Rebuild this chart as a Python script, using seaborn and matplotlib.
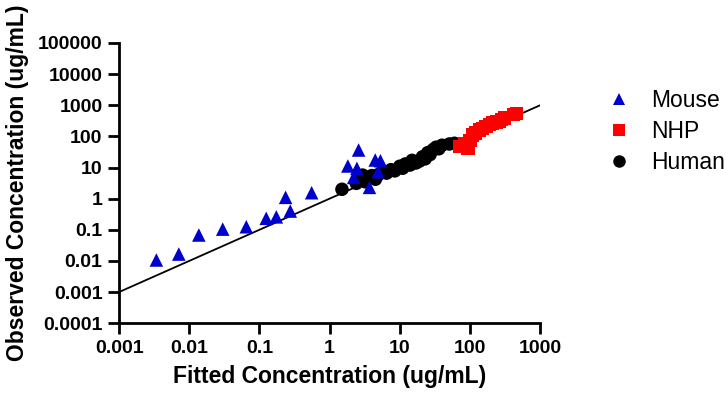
import matplotlib
matplotlib.use("Agg")
import matplotlib.pyplot as plt
import seaborn as sns
import pandas as pd
import numpy as np

#%% data

mouse_fitted = [0.0034, 0.0071, 0.0137, 0.030, 0.065, 0.125, 0.174, 0.275, 0.236, 0.555,
                2.59, 1.82, 2.45, 2.2, 3.7, 4.47, 5.3, 4.9]
mouse_observed = [0.0107, 0.0166, 0.068, 0.105, 0.125, 0.233, 0.26, 0.40, 1.1, 1.55,
                  36.5, 11.2, 9.4, 4.8, 2.3, 17.4, 16.5, 7.3]

nhp_fitted = [71, 84, 93, 100, 109, 120, 137, 150, 170, 190, 210, 240, 265, 280, 310, 420, 457]
nhp_observed = [47, 60, 42, 75, 110, 130, 161, 180, 205, 240, 270, 290, 297, 350, 390, 500, 550]

human_fitted = [1.5, 2.4, 2.6, 2.95, 3.2, 3.5, 4.0, 4.5, 5.0, 5.5, 6.5, 7.5, 8.5, 10, 11,
                12, 14, 15, 17, 19, 21, 23, 25, 27, 30, 33, 36, 40, 51, 60]
human_observed = [2.0, 3.1, 4.0, 5.7, 3.5, 4.8, 5.5, 4.2, 6.0, 7.0, 6.6, 8.5, 7.8, 11, 9.5,
                  13, 12, 17, 14, 16, 22, 19, 30, 26, 38, 45, 40, 52, 57, 60]

line_x = [0.001, 1000]
line_y = [0.001, 1000]

x_ticks = [0.001, 0.01, 0.1, 1, 10, 100, 1000]
x_labels = ['0.001', '0.01', '0.1', '1', '10', '100', '1000']
y_ticks = [0.0001, 0.001, 0.01, 0.1, 1, 10, 100, 1000, 10000, 100000]
y_labels = ['0.0001', '0.001', '0.01', '0.1', '1', '10', '100', '1000', '10000', '100000']

species_order = ['Mouse', 'NHP', 'Human']

#%% organize

# human first so the other groups are drawn on top
df = pd.concat([
    pd.DataFrame({'fitted': human_fitted, 'observed': human_observed, 'species': 'Human'}),
    pd.DataFrame({'fitted': nhp_fitted, 'observed': nhp_observed, 'species': 'NHP'}),
    pd.DataFrame({'fitted': mouse_fitted, 'observed': mouse_observed, 'species': 'Mouse'}),
], ignore_index=True)

#%% plot

sns.set_style("ticks")
plt.rcParams['font.family'] = ['Liberation Sans', 'DejaVu Sans']
for key in ['text.color', 'axes.labelcolor', 'xtick.color', 'ytick.color', 'axes.edgecolor']:
    plt.rcParams[key] = 'black'

fig = plt.figure(figsize=(7.26, 3.98), dpi=100)
ax = fig.add_axes([0.164, 0.188, 0.58, 0.704])

sns.lineplot(x=line_x, y=line_y, color='black', linewidth=1.3, ax=ax, zorder=1)
sns.scatterplot(data=df, x='fitted', y='observed', hue='species', style='species',
                hue_order=species_order, style_order=species_order,
                palette={'Mouse': '#0000CC', 'NHP': '#FF0000', 'Human': 'black'},
                markers={'Mouse': '^', 'NHP': 's', 'Human': 'o'},
                s=95, linewidth=0, ax=ax, zorder=2)

ax.set_xscale('log')
ax.set_yscale('log')
ax.set_xlim(0.001, 1000)
ax.set_ylim(0.0001, 100000)
ax.set_xticks(x_ticks)
ax.set_xticklabels(x_labels)
ax.set_yticks(y_ticks)
ax.set_yticklabels(y_labels)
ax.minorticks_off()

ax.tick_params(width=2, length=8, labelsize=14, pad=4)
for lab in ax.get_xticklabels() + ax.get_yticklabels():
    lab.set_fontweight('bold')
for side in ['left', 'bottom']:
    ax.spines[side].set_linewidth(2)
sns.despine(ax=ax)

ax.set_xlabel('Fitted Concentration (ug/mL)', fontsize=16.5, fontweight='bold', labelpad=6)
ax.set_ylabel('Observed Concentration (ug/mL)', fontsize=16.5, fontweight='bold', labelpad=6)

handles, labels = ax.get_legend_handles_labels()
leg = ax.legend(handles, labels, loc='upper left', bbox_to_anchor=(1.085, 0.911),
                frameon=False, fontsize=16.5, handletextpad=0.4, labelspacing=0.36)
for h in leg.legend_handles:
    h.set_markersize(9)

fig.savefig('out.png', dpi=100)
